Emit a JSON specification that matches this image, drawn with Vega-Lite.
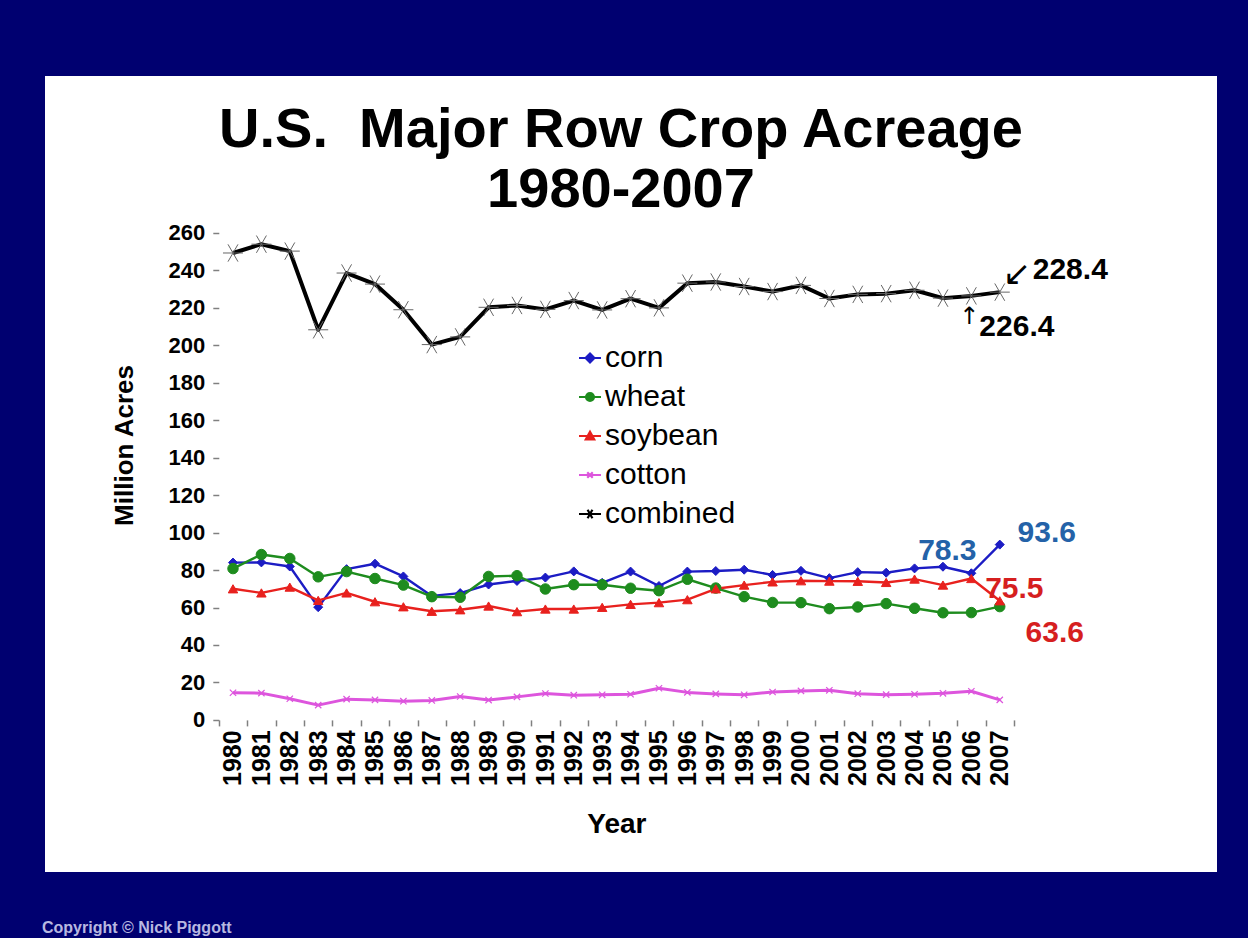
{
  "$schema": "https://vega.github.io/schema/vega-lite/v6.json",
  "autosize": {"type": "none"},
  "width": 1172,
  "height": 796,
  "padding": {"left": 45, "top": 76, "right": 31, "bottom": 66},
  "background": "#000070",
  "config": {
    "font": "Liberation Sans",
    "view": {"fill": "white", "stroke": null},
    "text": {"font": "Liberation Sans"}
  },
  "title": {
    "text": ["U.S. \u00a0Major Row Crop Acreage", "1980-2007"],
    "font": "Liberation Sans",
    "fontSize": 56,
    "fontWeight": "bold",
    "color": "black",
    "anchor": "middle",
    "frame": "group",
    "baseline": "alphabetic",
    "lineHeight": 60,
    "offset": -187,
    "dx": -10
  },
  "data": {
    "values": [
      {"year": 1980, "corn": 84.0, "wheat": 80.8, "soybean": 70.0, "cotton": 14.5, "combined": 249.3},
      {"year": 1981, "corn": 84.1, "wheat": 88.3, "soybean": 67.8, "cotton": 14.3, "combined": 254.0},
      {"year": 1982, "corn": 81.9, "wheat": 86.2, "soybean": 70.9, "cotton": 11.3, "combined": 250.3},
      {"year": 1983, "corn": 60.2, "wheat": 76.4, "soybean": 63.8, "cotton": 7.9, "combined": 208.3},
      {"year": 1984, "corn": 80.5, "wheat": 79.2, "soybean": 67.8, "cotton": 11.1, "combined": 238.6},
      {"year": 1985, "corn": 83.4, "wheat": 75.5, "soybean": 63.1, "cotton": 10.7, "combined": 232.7},
      {"year": 1986, "corn": 76.6, "wheat": 72.0, "soybean": 60.4, "cotton": 10.0, "combined": 219.0},
      {"year": 1987, "corn": 66.2, "wheat": 65.8, "soybean": 58.0, "cotton": 10.4, "combined": 200.4},
      {"year": 1988, "corn": 67.7, "wheat": 65.5, "soybean": 58.8, "cotton": 12.5, "combined": 204.5},
      {"year": 1989, "corn": 72.3, "wheat": 76.6, "soybean": 60.8, "cotton": 10.6, "combined": 220.3},
      {"year": 1990, "corn": 74.2, "wheat": 77.0, "soybean": 57.8, "cotton": 12.3, "combined": 221.3},
      {"year": 1991, "corn": 76.0, "wheat": 69.9, "soybean": 59.2, "cotton": 14.1, "combined": 219.2},
      {"year": 1992, "corn": 79.3, "wheat": 72.2, "soybean": 59.2, "cotton": 13.2, "combined": 223.9},
      {"year": 1993, "corn": 73.2, "wheat": 72.2, "soybean": 60.1, "cotton": 13.4, "combined": 218.9},
      {"year": 1994, "corn": 79.2, "wheat": 70.3, "soybean": 61.7, "cotton": 13.7, "combined": 224.9},
      {"year": 1995, "corn": 71.5, "wheat": 69.0, "soybean": 62.6, "cotton": 16.9, "combined": 220.0},
      {"year": 1996, "corn": 79.2, "wheat": 75.1, "soybean": 64.2, "cotton": 14.7, "combined": 233.2},
      {"year": 1997, "corn": 79.5, "wheat": 70.4, "soybean": 70.0, "cotton": 13.9, "combined": 233.8},
      {"year": 1998, "corn": 80.2, "wheat": 65.8, "soybean": 72.0, "cotton": 13.4, "combined": 231.4},
      {"year": 1999, "corn": 77.4, "wheat": 62.7, "soybean": 73.7, "cotton": 14.9, "combined": 228.7},
      {"year": 2000, "corn": 79.6, "wheat": 62.6, "soybean": 74.3, "cotton": 15.5, "combined": 232.0},
      {"year": 2001, "corn": 75.7, "wheat": 59.4, "soybean": 74.1, "cotton": 15.8, "combined": 225.0},
      {"year": 2002, "corn": 78.9, "wheat": 60.3, "soybean": 74.0, "cotton": 14.0, "combined": 227.2},
      {"year": 2003, "corn": 78.6, "wheat": 62.1, "soybean": 73.4, "cotton": 13.5, "combined": 227.6},
      {"year": 2004, "corn": 80.9, "wheat": 59.6, "soybean": 75.2, "cotton": 13.7, "combined": 229.4},
      {"year": 2005, "corn": 81.8, "wheat": 57.2, "soybean": 72.0, "cotton": 14.2, "combined": 225.2},
      {"year": 2006, "corn": 78.3, "wheat": 57.3, "soybean": 75.5, "cotton": 15.3, "combined": 226.4},
      {"year": 2007, "corn": 93.6, "wheat": 60.5, "soybean": 63.6, "cotton": 10.7, "combined": 228.4}
    ]
  },
  "transform": [
    {"fold": ["corn", "wheat", "soybean", "cotton", "combined"], "as": ["crop", "acres"]}
  ],
  "encoding": {
    "x": {
      "field": "year",
      "type": "quantitative",
      "scale": {"domain": [1973.38, 2014.65], "nice": false, "zero": false},
      "axis": {
        "title": "Year",
        "titleFont": "Liberation Sans",
        "titleFontSize": 28,
        "titleFontWeight": "bold",
        "titleColor": "black",
        "titleX": 571.4,
        "titleY": 105,
        "titleBaseline": "middle",
        "titleAlign": "center",
        "titleAngle": 0,
        "offset": -152.1,
        "domain": false,
        "grid": false,
        "values": [1979.5, 1980.5, 1981.5, 1982.5, 1983.5, 1984.5, 1985.5, 1986.5, 1987.5, 1988.5, 1989.5, 1990.5, 1991.5, 1992.5, 1993.5, 1994.5, 1995.5, 1996.5, 1997.5, 1998.5, 1999.5, 2000.5, 2001.5, 2002.5, 2003.5, 2004.5, 2005.5, 2006.5, 2007.5],
        "labelExpr": "datum.value < 2007 ? '' + (datum.value + 0.5) : ''",
        "labelAngle": 270,
        "labelAlign": "right",
        "labelBaseline": "middle",
        "labelOffset": 14.2,
        "labelPadding": 4,
        "labelFont": "Liberation Sans",
        "labelFontSize": 25,
        "labelFontWeight": "bold",
        "labelColor": "black",
        "labelOverlap": false,
        "labelFlush": false,
        "labelBound": false,
        "tickSize": 6,
        "tickWidth": 1.5,
        "tickColor": "#808080"
      }
    },
    "y": {
      "field": "acres",
      "type": "quantitative",
      "scale": {"domain": [-81.2, 343.8], "nice": false, "zero": false},
      "axis": {
        "title": "Million Acres",
        "titleFont": "Liberation Sans",
        "titleFontSize": 26,
        "titleFontWeight": "bold",
        "titleColor": "black",
        "titleX": -94,
        "titleY": 369,
        "titleAngle": 270,
        "titleAlign": "center",
        "titleBaseline": "middle",
        "offset": -173.8,
        "domain": false,
        "grid": false,
        "values": [0, 20, 40, 60, 80, 100, 120, 140, 160, 180, 200, 220, 240, 260],
        "labelFont": "Liberation Sans",
        "labelFontSize": 22,
        "labelFontWeight": "bold",
        "labelColor": "black",
        "labelPadding": 8,
        "labelOverlap": false,
        "labelFlush": false,
        "labelBound": false,
        "tickSize": 6,
        "tickWidth": 1.5,
        "tickColor": "#808080"
      }
    }
  },
  "layer": [
    {
      "transform": [{"filter": "datum.year === 0"}],
      "mark": {"type": "point", "filled": true, "strokeWidth": 2.2, "opacity": 1},
      "encoding": {
        "shape": {
          "field": "crop",
          "type": "nominal",
          "scale": {
            "domain": ["corn", "wheat", "soybean", "cotton", "combined"],
            "range": [
              "M-1,0L1,0M0,-0.4L0.4,0L0,0.4L-0.4,0Z",
              "M-1,0L1,0M0.36,0A0.36,0.36,0,1,1,-0.36,0A0.36,0.36,0,1,1,0.36,0Z",
              "M-1,0L1,0M0,-0.38L0.38,0.3L-0.38,0.3Z",
              "M-1,0L1,0M-0.25,-0.25L0.25,0.25M-0.25,0.25L0.25,-0.25",
              "M-1,0L1,0M-0.45,0L0.45,0M-0.22,-0.39L0.22,0.39M-0.22,0.39L0.22,-0.39"
            ]
          },
          "legend": {
            "orient": "none",
            "legendX": 530,
            "legendY": 267,
            "title": null,
            "padding": 0,
            "labelFont": "Liberation Sans",
            "labelFontSize": 30,
            "labelColor": "black",
            "labelOffset": 0,
            "rowPadding": 9,
            "symbolSize": 484,
            "symbolStrokeWidth": 2.2,
            "symbolOpacity": 1
          }
        },
        "fill": {
          "field": "crop",
          "type": "nominal",
          "scale": {
            "domain": ["corn", "wheat", "soybean", "cotton", "combined"],
            "range": ["#1c1cc4", "#1e8c1e", "#e8211e", "#dd55dd", "#000000"]
          }
        },
        "stroke": {
          "field": "crop",
          "type": "nominal",
          "scale": {
            "domain": ["corn", "wheat", "soybean", "cotton", "combined"],
            "range": ["#1c1cc4", "#1e8c1e", "#e8211e", "#dd55dd", "#000000"]
          }
        }
      }
    },
    {
      "data": {"values": [{}]},
      "mark": {"type": "rule", "color": "#808080", "strokeWidth": 1.5},
      "encoding": {"x": {"datum": 1979.5}, "y": {"datum": 0}, "y2": {"datum": 270}}
    },
    {
      "data": {"values": [{}]},
      "mark": {"type": "rule", "color": "#808080", "strokeWidth": 1.5},
      "encoding": {"y": {"datum": 0}, "x": {"datum": 1979.5}, "x2": {"datum": 2007.5}}
    },
    {
      "transform": [{"filter": "datum.crop !== 'combined' && datum.crop !== 'cotton'"}],
      "mark": {"type": "line", "strokeWidth": 2.4, "strokeJoin": "round"},
      "encoding": {"stroke": {"field": "crop", "type": "nominal"}}
    },
    {
      "transform": [{"filter": "datum.crop === 'cotton'"}],
      "mark": {"type": "line", "strokeWidth": 3, "strokeJoin": "round"},
      "encoding": {"stroke": {"field": "crop", "type": "nominal"}}
    },
    {
      "transform": [{"filter": "datum.crop === 'combined'"}],
      "mark": {"type": "line", "strokeWidth": 4, "strokeJoin": "round"},
      "encoding": {"stroke": {"field": "crop", "type": "nominal"}}
    },
    {
      "transform": [{"filter": "datum.crop === 'corn'"}],
      "mark": {"type": "point", "shape": "diamond", "size": 81, "filled": true, "fill": "#1c1cc4", "stroke": "#1c1cc4", "strokeWidth": 1, "opacity": 1}
    },
    {
      "transform": [{"filter": "datum.crop === 'wheat'"}],
      "mark": {"type": "point", "shape": "circle", "size": 110, "filled": true, "fill": "#1e8c1e", "stroke": "#1e8c1e", "strokeWidth": 1, "opacity": 1}
    },
    {
      "transform": [{"filter": "datum.crop === 'soybean'"}],
      "mark": {"type": "point", "shape": "triangle-up", "size": 90, "filled": true, "fill": "#e8211e", "stroke": "#e8211e", "strokeWidth": 1, "opacity": 1}
    },
    {
      "transform": [{"filter": "datum.crop === 'cotton'"}],
      "mark": {"type": "point", "shape": "M-1,-1L1,1M-1,1L1,-1", "size": 40, "filled": false, "stroke": "#dd55dd", "strokeWidth": 1.2, "opacity": 1}
    },
    {
      "transform": [{"filter": "datum.crop === 'combined'"}],
      "mark": {"type": "point", "shape": "M-1,0L1,0M-0.5,-0.866L0.5,0.866M-0.5,0.866L0.5,-0.866", "size": 400, "filled": false, "stroke": "#666666", "strokeWidth": 1, "opacity": 1}
    },
    {
      "transform": [{"filter": "datum.crop === 'corn' && datum.year === 2007"}],
      "mark": {"type": "text", "fontSize": 30, "fontWeight": "bold", "fill": "#2462a8", "align": "center", "baseline": "middle", "dx": 47, "dy": -12},
      "encoding": {"text": {"field": "acres", "type": "quantitative", "format": ".1f"}}
    },
    {
      "transform": [{"filter": "datum.crop === 'corn' && datum.year === 2006"}],
      "mark": {"type": "text", "fontSize": 30, "fontWeight": "bold", "fill": "#2462a8", "align": "center", "baseline": "middle", "dx": -24, "dy": -22},
      "encoding": {"text": {"field": "acres", "type": "quantitative", "format": ".1f"}}
    },
    {
      "transform": [{"filter": "datum.crop === 'soybean' && datum.year === 2006"}],
      "mark": {"type": "text", "fontSize": 30, "fontWeight": "bold", "fill": "#d61f1f", "align": "center", "baseline": "middle", "dx": 43, "dy": 10},
      "encoding": {"text": {"field": "acres", "type": "quantitative", "format": ".1f"}}
    },
    {
      "transform": [{"filter": "datum.crop === 'soybean' && datum.year === 2007"}],
      "mark": {"type": "text", "fontSize": 30, "fontWeight": "bold", "fill": "#d61f1f", "align": "center", "baseline": "middle", "dx": 55, "dy": 32},
      "encoding": {"text": {"field": "acres", "type": "quantitative", "format": ".1f"}}
    },
    {
      "transform": [{"filter": "datum.crop === 'combined' && datum.year === 2007"}],
      "mark": {"type": "text", "fontSize": 30, "fontWeight": "bold", "fill": "black", "align": "left", "baseline": "middle", "dx": 33, "dy": -22},
      "encoding": {"text": {"field": "acres", "type": "quantitative", "format": ".1f"}}
    },
    {
      "transform": [{"filter": "datum.crop === 'combined' && datum.year === 2006"}],
      "mark": {"type": "text", "fontSize": 30, "fontWeight": "bold", "fill": "black", "align": "left", "baseline": "middle", "dx": 8, "dy": 31},
      "encoding": {"text": {"field": "acres", "type": "quantitative", "format": ".1f"}}
    },
    {
      "transform": [{"filter": "datum.crop === 'combined' && datum.year === 2007"}],
      "mark": {"type": "text", "font": "DejaVu Sans", "fontSize": 34, "fill": "black", "align": "center", "baseline": "middle", "dx": 17, "dy": -17},
      "encoding": {"text": {"value": "↙"}}
    },
    {
      "transform": [{"filter": "datum.crop === 'combined' && datum.year === 2006"}],
      "mark": {"type": "text", "font": "DejaVu Sans", "fontSize": 24, "fill": "black", "align": "center", "baseline": "middle", "dx": -2, "dy": 21},
      "encoding": {"text": {"value": "↑"}}
    },
    {
      "transform": [{"filter": "datum.crop === 'corn' && datum.year === 1980"}],
      "mark": {"type": "text", "fontSize": 16, "fontWeight": "bold", "fill": "#b8b8e0", "align": "left", "baseline": "middle", "dx": -3, "dy": 56},
      "encoding": {"x": {"datum": 1973.38}, "y": {"datum": -81.2}, "text": {"value": "Copyright © Nick Piggott"}}
    }
  ]
}
